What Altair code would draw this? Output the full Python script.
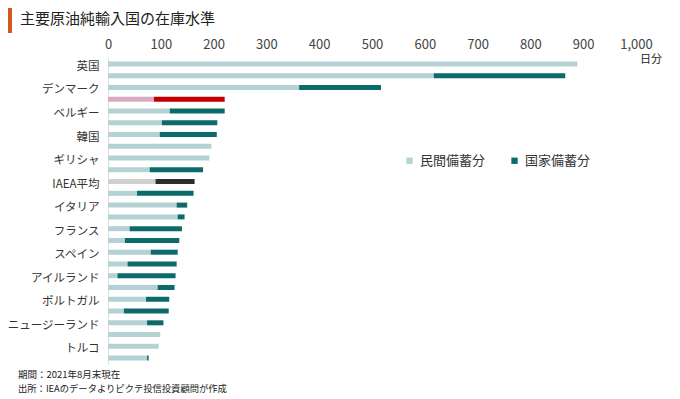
import altair as alt
import pandas as pd

# Row labels (every other row is labelled in the original)
labels = ["英国", "", "デンマーク", "", "ベルギー", "", "韓国", "", "ギリシャ", "",
          "IAEA平均", "", "イタリア", "", "フランス", "", "スペイン", "",
          "アイルランド", "", "ポルトガル", "", "ニュージーランド", "", "トルコ", ""]
# Days of stock
private = [889, 617, 362, 87, 117, 102, 98, 196, 192, 79, 90, 55, 130, 132,
           41, 32, 81, 37, 18, 94, 72, 30, 74, 99, 96, 74]
national = [0, 249, 155, 134, 104, 105, 108, 0, 0, 101, 74, 107, 20, 13,
            99, 103, 51, 93, 110, 32, 44, 85, 31, 0, 0, 3]
# Row style group: normal / highlighted (red) / average (dark grey)
group = ["n", "n", "n", "h", "n", "n", "n", "n", "n", "n", "a", "n", "n", "n",
         "n", "n", "n", "n", "n", "n", "n", "n", "n", "n", "n", "n"]

x_ticks = [0, 100, 200, 300, 400, 500, 600, 700, 800, 900, 1000]
title_text = "主要原油純輸入国の在庫水準"
note1 = "期間：2021年8月末現在"
note2 = "出所：IEAのデータよりピクテ投信投資顧問が作成"
unit_text = "日分"

PRIV = "民間備蓄分"
NAT = "国家備蓄分"
cat_names = {("n", 0): PRIV, ("n", 1): NAT,
             ("h", 0): "民間備蓄分 ", ("h", 1): "国家備蓄分 ",
             ("a", 0): "民間備蓄分  ", ("a", 1): "国家備蓄分  "}
color_domain = [PRIV, NAT, "民間備蓄分 ", "国家備蓄分 ", "民間備蓄分  ", "国家備蓄分  "]
color_range = ["#b4d1d3", "#0c6a6a", "#d8aac2", "#c00000", "#cfcfcf", "#2d2d2d"]

rows = []
for i, (p, n, g) in enumerate(zip(private, national, group)):
    rows.append({"row": i, "days": p, "kind": cat_names[(g, 0)], "ord": 0})
    if n > 0:
        rows.append({"row": i, "days": n, "kind": cat_names[(g, 1)], "ord": 1})
df = pd.DataFrame(rows)

FONT = "Noto Sans CJK JP"
label_array = "[" + ",".join("'" + s + "'" for s in labels) + "]"

bars = alt.Chart(df).mark_bar(size=5).encode(
    x=alt.X("days:Q", stack="zero",
            scale=alt.Scale(domain=[0, 1000], nice=False),
            axis=alt.Axis(orient="top", values=x_ticks, format=",d", ticks=False,
                          domain=False, grid=False, labelFontSize=13,
                          labelColor="#444444", labelFont=FONT, labelPadding=7,
                          title=None, labelFlush=False)),
    y=alt.Y("row:O",
            axis=alt.Axis(labelExpr=label_array + "[datum.value]", ticks=False,
                          domain=True, domainColor="#dedede", grid=False,
                          labelFontSize=11.5, labelColor="#333333", labelFont=FONT,
                          labelPadding=9, title=None, labelBaseline="top",
                          labelOffset=-3)),
    color=alt.Color("kind:N",
                    scale=alt.Scale(domain=color_domain, range=color_range),
                    legend=alt.Legend(values=[PRIV, NAT], orient="none",
                                      legendX=295, legendY=96, direction="horizontal",
                                      title=None, symbolType="square", symbolSize=40,
                                      symbolStrokeWidth=0, labelFontSize=13,
                                      labelColor="#333333", labelFont=FONT,
                                      columnPadding=22, labelOffset=4, padding=0)),
    order=alt.Order("ord:Q"),
)

def text_layer(txt, x, y, size, align="left"):
    return alt.Chart(pd.DataFrame({"t": [txt]})).mark_text(
        align=align, baseline="middle", fontSize=size, font=FONT, color="#222222"
    ).encode(text="t:N", x=alt.value(x), y=alt.value(y))

title = text_layer(title_text, -88, -39, 15)
unit = text_layer(unit_text, 543, 2, 11, align="center")
n1 = text_layer(note1, -90, 317, 9.5)
n2 = text_layer(note2, -90, 331, 9.3)

title_bar = alt.Chart(pd.DataFrame({"a": [0]})).mark_rule(
    color="#d2591f", strokeWidth=6
).encode(x=alt.value(-99), y=alt.value(-51), y2=alt.value(-25))

chart = alt.layer(bars, title, title_bar, unit, n1, n2).properties(
    width=528, height=306,
    padding={"left": 100, "top": 50, "right": 36, "bottom": 33},
    autosize=alt.AutoSizeParams(type="none"),
).configure_view(stroke=None)

chart.save("out.html", embed_options={"renderer": "svg", "actions": False})
